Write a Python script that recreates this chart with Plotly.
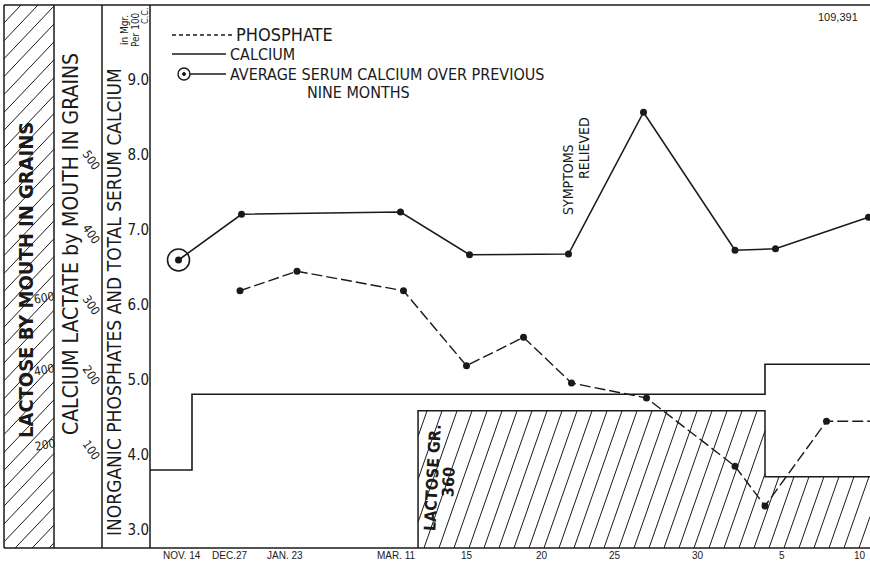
import plotly.graph_objects as go

W, H = 870, 562

# ---------------- data ----------------
# x = chart position in days relative to Mar 15 (Nov-Mar part compressed as drawn)
calcium_x = [-19.1, -14.9, -4.3, 0.3, 6.9, 11.9, 18.0, 20.7, 26.9]
calcium_y = [6.60, 7.21, 7.24, 6.67, 6.68, 8.57, 6.73, 6.75, 7.17]

phosphate_x = [-15.0, -11.2, -4.1, 0.1, 3.9, 7.1, 12.1, 18.0, 20.0, 24.1, 27.0]
phosphate_y = [6.19, 6.45, 6.19, 5.19, 5.57, 4.96, 4.76, 3.85, 3.32, 4.45, 4.45]

avg_x = [-19.1]
avg_y = [6.60]

lactate_x = [-21.0, -18.2, 20.0, 27.0]
lactate_y = [3.80, 4.81, 5.21, 5.21]

lactose_x = [-3.13, 20.0, 27.0]      # boundaries of lactose periods
lactose_y = [4.59, 3.71]             # level of each period

x_tick_pos = [-18.9, -15.7, -12.0, -4.6, 0.1, 5.1, 10.0, 15.5, 21.1, 26.3]
x_tick_text = ["NOV. 14", "DEC.27", "JAN. 23", "MAR. 11", "15", "20", "25", "30", "5", "10"]

y_tick_pos = [3, 4, 5, 6, 7, 8, 9]
y_tick_text = ["3.0", "4.0", "5.0", "6.0", "7.0", "8.0", "9.0"]

lactose_scale = ["600", "400", "200"]
lactate_scale = ["500", "400", "300", "200", "100"]

X_RANGE = [-21.0, 27.0]
Y_RANGE = [2.76, 10.0]

FONT = "Liberation Sans Narrow, DejaVu Sans Condensed, Liberation Sans, sans-serif"
TICKFONT = "Liberation Sans, DejaVu Sans, sans-serif"
INK = "#1a1a1a"

# ---------------- layout helpers ----------------
PLOT_L, PLOT_R, PLOT_T, PLOT_B = 150, 870, 5, 548


def px(x):
    return x / W


def py(y):
    return 1 - y / H


shapes = []


def pline(x0, y0, x1, y1, width=1.5, dash="solid"):
    shapes.append(dict(type="line", xref="paper", yref="paper",
                       x0=px(x0), y0=py(y0), x1=px(x1), y1=py(y1),
                       line=dict(color=INK, width=width, dash=dash)))


# frame
pline(4, PLOT_T, PLOT_R, PLOT_T)
pline(4, PLOT_B, PLOT_R, PLOT_B)
for xv in (4, 54, 102, 150):
    pline(xv, PLOT_T, xv, PLOT_B)


# hatching of left panel (pixel-space decoration)
def hatch_rect_px(xa, xb, ya, yb, spacing, run_per_rise, width=1.0):
    c = xa - run_per_rise * (yb - ya)
    while c < xb:
        def y_at(x):
            return yb - (x - c) / run_per_rise
        y_low = min(yb, y_at(xa))
        y_high = max(ya, y_at(xb))
        if y_low > y_high:
            x0 = c + run_per_rise * (yb - y_low)
            x1 = c + run_per_rise * (yb - y_high)
            pline(x0, y_low, x1, y_high, width=width)
        c += spacing


hatch_rect_px(4, 54, PLOT_T, PLOT_B, 17, 0.95, width=1.0)

# ---------------- figure ----------------
fig = go.Figure()

# lactose hatched region (data space)
xs_h, ys_h = [], []
k = 1.75  # x units per y unit (steep hatch)
ymin = Y_RANGE[0]
for i, lvl in enumerate(lactose_y):
    xa, xb = lactose_x[i], lactose_x[i + 1]
    c = lactose_x[0] - k * (lactose_y[0] - ymin) - 0.4
    while c < xb:
        y1 = max(ymin, ymin + (xa - c) / k)
        y2 = min(lvl, ymin + (xb - c) / k)
        if y1 < y2:
            xs_h += [c + k * (y1 - ymin), c + k * (y2 - ymin), None]
            ys_h += [y1, y2, None]
        c += 1.0
fig.add_trace(go.Scatter(x=xs_h, y=ys_h, mode="lines",
                         line=dict(color=INK, width=1.0),
                         hoverinfo="skip", showlegend=False))

# lactose outline
lx = [lactose_x[0], lactose_x[0], lactose_x[1], lactose_x[1], lactose_x[2]]
ly = [ymin, lactose_y[0], lactose_y[0], lactose_y[1], lactose_y[1]]
fig.add_trace(go.Scatter(x=lx, y=ly, mode="lines",
                         line=dict(color=INK, width=1.5),
                         hoverinfo="skip", showlegend=False))

# calcium lactate steps
fig.add_trace(go.Scatter(x=lactate_x, y=lactate_y, mode="lines",
                         line=dict(color=INK, width=1.6, shape="hv"),
                         showlegend=False))

# phosphate
fig.add_trace(go.Scatter(x=phosphate_x, y=phosphate_y, mode="lines+markers",
                         line=dict(color=INK, width=1.4, dash="11px,4px"),
                         marker=dict(color=INK, opacity=1,
                                     line=dict(color=INK, width=0),
                                     size=[7] * (len(phosphate_x) - 1) + [0]),
                         showlegend=False))

# calcium
fig.add_trace(go.Scatter(x=calcium_x, y=calcium_y, mode="lines+markers",
                         line=dict(color=INK, width=1.6),
                         marker=dict(color=INK, size=7,
                                     line=dict(color=INK, width=0)),
                         showlegend=False))

# average serum calcium circle
fig.add_trace(go.Scatter(x=avg_x, y=avg_y, mode="markers",
                         marker=dict(symbol="circle-open", size=22, color=INK,
                                     line=dict(color=INK, width=1.6)),
                         showlegend=False))

annotations = []


def ann(text, x, y, size, angle=0, xanchor="center", yanchor="middle", bold=False,
        family=FONT):
    annotations.append(dict(text=("<b>%s</b>" % text) if bold else text,
                            xref="paper", yref="paper", x=px(x), y=py(y),
                            showarrow=False, textangle=angle,
                            xanchor=xanchor, yanchor=yanchor,
                            font=dict(family=family, size=size, color=INK)))


# x tick labels, placed through the x axis scale
for pos, txt in zip(x_tick_pos, x_tick_text):
    annotations.append(dict(text=txt, xref="x", yref="paper", x=pos, y=py(555),
                            showarrow=False, xanchor="center", yanchor="middle",
                            font=dict(family=TICKFONT, size=10, color=INK)))

# left panel titles
ann("LACTOSE BY MOUTH IN GRAINS", 26, 280, 20, angle=-90, bold=True)
ann("CALCIUM LACTATE by MOUTH IN GRAINS", 71, 244, 21, angle=-90)
ann("INORGANIC PHOSPHATES AND TOTAL SERUM CALCIUM", 114, 302, 19, angle=-90)
ann("in Mgr.", 124, 30, 10, angle=-90)
ann("Per 100", 135, 30, 10, angle=-90)
ann("C.C.", 145, 16, 9, angle=-90)

for t, yy, xx in zip(lactose_scale, [298, 370, 445], [44, 44, 45]):
    ann(t, xx, yy, 12, angle=-10)
for t, yy in zip(lactate_scale, [160, 234, 305, 375, 450]):
    ann(t, 91, yy, 12, angle=55)

# legend (drawn by hand in the original)
pline(172, 35, 232, 35, width=1.3, dash="4px,3px")
ann("PHOSPHATE", 234, 35, 18, xanchor="left")
pline(172, 54, 226, 54, width=1.4)
ann("CALCIUM", 228, 54, 16, xanchor="left")
shapes.append(dict(type="circle", xref="paper", yref="paper",
                   x0=px(178), x1=px(190), y0=py(68), y1=py(80),
                   line=dict(color=INK, width=1.4)))
shapes.append(dict(type="circle", xref="paper", yref="paper",
                   x0=px(182.5), x1=px(185.5), y0=py(72.5), y1=py(75.5),
                   fillcolor=INK, line=dict(color=INK, width=1)))
pline(190, 74, 226, 74, width=1.4)
ann("AVERAGE SERUM CALCIUM OVER PREVIOUS", 228, 74, 16, xanchor="left")
ann("NINE MONTHS", 305, 93, 16, xanchor="left")

ann("109,391", 838, 17, 11, family=TICKFONT)

# in-plot notes
ann("SYMPTOMS", 568, 180, 14, angle=-90)
ann("RELIEVED", 584, 148, 14, angle=-90)
ann("LACTOSE GR.", 432, 478, 16, angle=-87, bold=True)
ann("360", 448, 482, 16, angle=-87, bold=True)

fig.update_layout(
    width=W, height=H,
    margin=dict(l=0, r=0, t=0, b=0),
    paper_bgcolor="white", plot_bgcolor="white",
    template="none",
    showlegend=False,
    shapes=shapes,
    annotations=annotations,
    xaxis=dict(domain=[PLOT_L / W, PLOT_R / W], range=X_RANGE,
               showgrid=False, zeroline=False, showline=False,
               showticklabels=False, ticks="", automargin=False),
    yaxis=dict(domain=[1 - PLOT_B / H, 1 - PLOT_T / H], range=Y_RANGE,
               showgrid=False, zeroline=False, showline=False,
               tickmode="array", tickvals=y_tick_pos, ticktext=y_tick_text,
               ticks="", tickfont=dict(family=FONT, size=15, color=INK),
               automargin=False),
)

fig.write_html("out.html",
               config={"displayModeBar": False},
               post_script="document.body.style.margin='0px';"
                           "document.body.style.overflow='hidden';")
